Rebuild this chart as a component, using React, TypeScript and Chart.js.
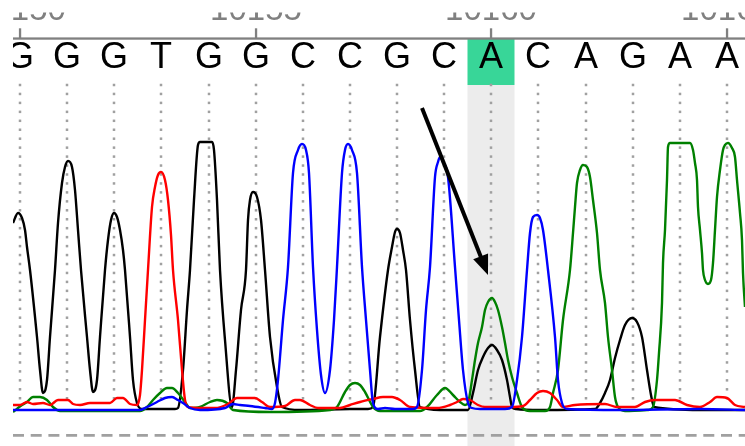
import React, { useEffect, useRef } from "react";
import { Chart, registerables } from "chart.js";

Chart.register(...registerables);

// ---- data (scan number, signal RFU) ----
const BASES = ["G", "G", "G", "T", "G", "G", "C", "C", "G", "C", "A", "C", "A", "G", "A", "A"];
const BASE_SCANS = [4800, 4847, 4894, 4941, 4989, 5036, 5083, 5130, 5177, 5224, 5271, 5318, 5366, 5413, 5460, 5507];
const HIGHLIGHT_INDEX = 10;
const RULER_TICKS = [4800, 5036, 5271, 5507];
const RULER_LABELS = ["10150", "10155", "10160", "10165"];
const ARROW_FROM = [5202, 1208];
const ARROW_TO = [5268, 540];

const TRACE_G: number[][] = [
  [4793, 748], [4798, 788], [4802, 768], [4805, 720], [4807, 652], [4810, 560], [4817, 292], [4820, 160], [4823, 68],
  [4827, 120], [4830, 292], [4835, 560], [4838, 748], [4842, 908], [4845, 972], [4848, 996], [4852, 972], [4855, 880], [4858, 720], [4861, 560], [4867, 292], [4870, 160], [4873, 72],
  [4877, 120], [4880, 292], [4885, 560], [4888, 680], [4891, 760], [4894, 788], [4897, 772], [4900, 720], [4903, 640], [4905, 560], [4910, 292], [4913, 120], [4917, 28],
  [4922, 4], [4940, 4], [4955, 4],
  [4958, 8], [4963, 160], [4967, 400], [4970, 560], [4974, 840], [4978, 1060], [4980, 1072], [4992, 1072], [4994, 1040], [4997, 840], [5000, 560], [5005, 280], [5012, 12],
  [5016, 160], [5021, 400], [5026, 560], [5028, 760], [5030, 840], [5033, 872], [5037, 852], [5041, 760], [5045, 560], [5050, 292], [5057, 92], [5062, 12],
  [5080, 0], [5130, 4], [5148, 4],
  [5153, 12], [5160, 292], [5168, 560], [5172, 652], [5175, 712], [5177, 724], [5180, 708], [5183, 640], [5186, 560], [5190, 360], [5195, 160], [5200, 12],
  [5220, 0], [5248, 0],
  [5253, 68], [5258, 160], [5263, 212], [5268, 248], [5272, 260], [5277, 240], [5282, 200], [5287, 120], [5290, 52], [5292, 12],
  [5296, 4], [5320, 0], [5375, 4],
  [5380, 28], [5385, 68], [5390, 120], [5395, 208], [5400, 280], [5405, 340], [5412, 368], [5417, 352], [5422, 292], [5427, 160], [5431, 60], [5434, 12],
  [5480, 0], [5525, 0],
];

const TRACE_C: number[][] = [
  [4793, 0], [4920, 0], [4927, 12], [4937, 32], [4945, 48], [4952, 52], [4958, 40], [4963, 28], [4970, 8], [4980, 0], [5005, 8], [5013, 24], [5020, 20], [5030, 16], [5045, 8], [5052, 4],
  [5055, 28], [5058, 120], [5063, 360], [5068, 572], [5073, 948], [5078, 1040], [5082, 1064], [5086, 1040], [5089, 948], [5093, 572], [5097, 320], [5101, 140], [5105, 68],
  [5110, 160], [5114, 360], [5117, 572], [5122, 948], [5125, 1040], [5128, 1064], [5132, 1040], [5137, 948], [5142, 572], [5146, 360], [5150, 160], [5153, 28], [5158, 4],
  [5165, 8], [5175, 4], [5193, 4],
  [5197, 12], [5202, 160], [5206, 400], [5210, 572], [5215, 932], [5218, 992], [5220, 1012], [5223, 992], [5228, 932], [5235, 572], [5239, 360], [5243, 160], [5248, 28], [5252, 8],
  [5260, 4], [5285, 4],
  [5292, 12], [5297, 120], [5302, 292], [5307, 560], [5310, 708], [5313, 772], [5317, 780], [5320, 768], [5323, 720], [5328, 560], [5335, 292], [5338, 120], [5342, 28], [5347, 4],
  [5400, 0], [5480, 4], [5525, 0],
];

const TRACE_T: number[][] = [
  [4793, 20], [4800, 20], [4807, 32], [4813, 24], [4823, 28], [4830, 20], [4838, 40], [4848, 40], [4853, 24], [4860, 20], [4870, 28], [4890, 28], [4897, 48], [4903, 48], [4910, 24], [4917, 20],
  [4920, 60], [4922, 160], [4925, 360], [4928, 560], [4932, 812], [4935, 892], [4938, 940], [4941, 952], [4945, 920], [4948, 840], [4951, 700], [4953, 560], [4958, 360], [4962, 160], [4965, 40], [4968, 12],
  [4980, 8], [4995, 8], [5008, 24], [5017, 48], [5035, 48], [5042, 32], [5050, 12], [5065, 16], [5075, 40], [5080, 40], [5090, 20], [5098, 8], [5120, 8], [5130, 20], [5140, 32], [5153, 44], [5163, 52], [5172, 52], [5180, 40], [5190, 12],
  [5217, 8], [5230, 20], [5237, 32], [5243, 44], [5250, 40], [5258, 20], [5265, 12], [5290, 12], [5303, 16], [5310, 40], [5317, 68], [5323, 76], [5330, 68], [5337, 40], [5343, 12],
  [5355, 20], [5385, 24], [5397, 12], [5415, 12], [5425, 32], [5435, 40], [5455, 40], [5467, 20], [5480, 12], [5490, 32], [5497, 52], [5507, 48], [5515, 20], [5525, 12],
];

const TRACE_A: number[][] = [
  [4793, -8], [4802, 20], [4807, 32], [4813, 52], [4820, 52], [4827, 40], [4833, 12], [4840, -4], [4920, -4], [4927, 12], [4933, 40], [4940, 68], [4947, 88], [4952, 88], [4958, 68], [4965, 32], [4970, 8],
  [4980, 12], [4990, 32], [4997, 40], [5007, 28], [5013, 0], [5050, -8], [5110, 0], [5117, 12], [5125, 72], [5130, 100], [5135, 108], [5140, 100], [5145, 72], [5153, 12], [5160, -4],
  [5200, -4], [5207, 12], [5217, 60], [5225, 88], [5233, 60], [5240, 32], [5245, 20],
  [5248, 28], [5252, 120], [5255, 200], [5258, 268], [5262, 332], [5265, 400], [5268, 432], [5272, 448], [5275, 432], [5278, 400], [5282, 332], [5285, 268], [5288, 200], [5292, 132], [5297, 68], [5302, 12],
  [5310, -4], [5325, -4],
  [5330, 12], [5333, 68], [5338, 160], [5343, 360], [5350, 560], [5353, 708], [5355, 812], [5357, 908], [5360, 960], [5363, 980], [5367, 972], [5370, 932], [5373, 840], [5377, 708], [5380, 560], [5385, 428], [5388, 292], [5392, 160], [5395, 52], [5398, 12],
  [5405, -4], [5428, 0],
  [5433, 12], [5437, 120], [5439, 228], [5442, 428], [5443, 588], [5445, 720], [5447, 920], [5448, 1052], [5450, 1068], [5470, 1068], [5473, 1040], [5475, 988], [5477, 920], [5478, 812], [5480, 720], [5482, 628], [5483, 560], [5485, 520], [5488, 504], [5491, 520], [5493, 588], [5495, 720], [5497, 852], [5500, 960], [5503, 1040], [5505, 1060], [5508, 1068], [5512, 1048], [5515, 1012], [5517, 920], [5520, 788], [5522, 680], [5523, 548], [5525, 412], [5528, 240],
];

const SCAN_MIN = 4793;
const SCAN_MAX = 5525;
const RFU_MIN = -144;
const RFU_MAX = 1640;

const FONT = '"Liberation Sans", Arial, sans-serif';

const decorPlugin = {
  id: "decor",
  beforeDatasetsDraw(chart: any) {
    const { ctx, chartArea, scales } = chart;
    const x = scales.x;
    const H = chart.height;
    ctx.save();
    ctx.beginPath();
    ctx.rect(chartArea.left, 0, chartArea.right - chartArea.left, H);
    ctx.clip();

    // highlighted column
    const hi = HIGHLIGHT_INDEX;
    const xl = x.getPixelForValue((BASE_SCANS[hi - 1] + BASE_SCANS[hi]) / 2);
    const xr = x.getPixelForValue((BASE_SCANS[hi] + BASE_SCANS[hi + 1]) / 2);
    ctx.fillStyle = "#ececec";
    ctx.fillRect(xl, 85, xr - xl, H - 85);
    ctx.fillStyle = "#38d698";
    ctx.fillRect(xl, 39, xr - xl, 46);

    // ruler
    ctx.fillStyle = "#808080";
    ctx.fillRect(chartArea.left, 37.4, chartArea.right - chartArea.left, 2.3);
    RULER_TICKS.forEach((t) => {
      const px = x.getPixelForValue(t);
      ctx.fillRect(px - 1.1, 28.3, 2.3, 10);
    });
    // ruler labels: only their lower part is visible (view is scrolled)
    ctx.save();
    ctx.beginPath();
    ctx.rect(chartArea.left, 12.5, chartArea.right - chartArea.left, 20);
    ctx.clip();
    ctx.fillStyle = "#808080";
    ctx.font = `33px ${FONT}`;
    ctx.textAlign = "center";
    ctx.textBaseline = "alphabetic";
    RULER_TICKS.forEach((t, i) => {
      ctx.fillText(RULER_LABELS[i], x.getPixelForValue(t), 19.8);
    });
    ctx.restore();

    // base letters
    ctx.fillStyle = "#000";
    ctx.font = `36px ${FONT}`;
    ctx.textAlign = "center";
    BASES.forEach((b, i) => {
      ctx.fillText(b, x.getPixelForValue(BASE_SCANS[i]), 68.3);
    });

    // dotted guides
    ctx.fillStyle = "#a0a0a0";
    BASE_SCANS.forEach((s) => {
      const px = x.getPixelForValue(s);
      for (let yy = 85; yy <= 399; yy += 8.95) {
        ctx.fillRect(px - 1.25, yy - 1.25, 2.5, 2.5);
      }
    });

    // bottom dashed line
    ctx.strokeStyle = "#a0a0a0";
    ctx.lineWidth = 2.7;
    ctx.setLineDash([11, 6.7]);
    ctx.beginPath();
    ctx.moveTo(chartArea.left, 435.3);
    ctx.lineTo(chartArea.right, 435.3);
    ctx.stroke();
    ctx.restore();
  },
  afterDatasetsDraw(chart: any) {
    const { ctx, scales } = chart;
    const x0 = scales.x.getPixelForValue(ARROW_FROM[0]);
    const y0 = scales.y.getPixelForValue(ARROW_FROM[1]);
    const x1 = scales.x.getPixelForValue(ARROW_TO[0]);
    const y1 = scales.y.getPixelForValue(ARROW_TO[1]);
    const ang = Math.atan2(y1 - y0, x1 - x0);
    const head = 20;
    const half = 8;
    const bx = x1 - Math.cos(ang) * head;
    const by = y1 - Math.sin(ang) * head;
    ctx.save();
    ctx.strokeStyle = "#000";
    ctx.fillStyle = "#000";
    ctx.lineWidth = 4;
    ctx.beginPath();
    ctx.moveTo(x0, y0);
    ctx.lineTo(bx + Math.cos(ang) * 2, by + Math.sin(ang) * 2);
    ctx.stroke();
    ctx.beginPath();
    ctx.moveTo(x1, y1);
    ctx.lineTo(bx + Math.sin(ang) * half, by - Math.cos(ang) * half);
    ctx.lineTo(bx - Math.sin(ang) * half, by + Math.cos(ang) * half);
    ctx.closePath();
    ctx.fill();
    ctx.restore();
  },
};

function toPoints(arr: number[][]) {
  return arr.map(([s, v]) => ({ x: s, y: v }));
}

export default function App() {
  const ref = useRef<HTMLCanvasElement | null>(null);
  useEffect(() => {
    document.body.style.margin = "0";
    const canvas = ref.current;
    if (!canvas) return;
    const mk = (label: string, arr: number[][], color: string) => ({
      label,
      data: toPoints(arr),
      borderColor: color,
      backgroundColor: color,
      borderWidth: 2.4,
      pointRadius: 0,
      fill: false,
      cubicInterpolationMode: "monotone" as const,
      clip: 0,
    });
    const chart = new Chart(canvas, {
      type: "line",
      data: {
        datasets: [
          mk("C", TRACE_C, "#0000ff"),
          mk("T", TRACE_T, "#ff0000"),
          mk("A", TRACE_A, "#008000"),
          mk("G", TRACE_G, "#000000"),
        ],
      },
      options: {
        animation: false,
        responsive: false,
        events: [],
        layout: { padding: { left: 13, right: 0, top: 0, bottom: 0 } },
        plugins: { legend: { display: false }, tooltip: { enabled: false }, title: { display: false } },
        scales: {
          x: { type: "linear", min: SCAN_MIN, max: SCAN_MAX, display: false },
          y: { type: "linear", min: RFU_MIN, max: RFU_MAX, display: false },
        },
      },
      plugins: [decorPlugin],
    } as any);
    return () => chart.destroy();
  }, []);
  return (
    <div style={{ width: 745, height: 446, background: "#fff" }}>
      <canvas ref={ref} width={745} height={446} style={{ display: "block" }} />
    </div>
  );
}
